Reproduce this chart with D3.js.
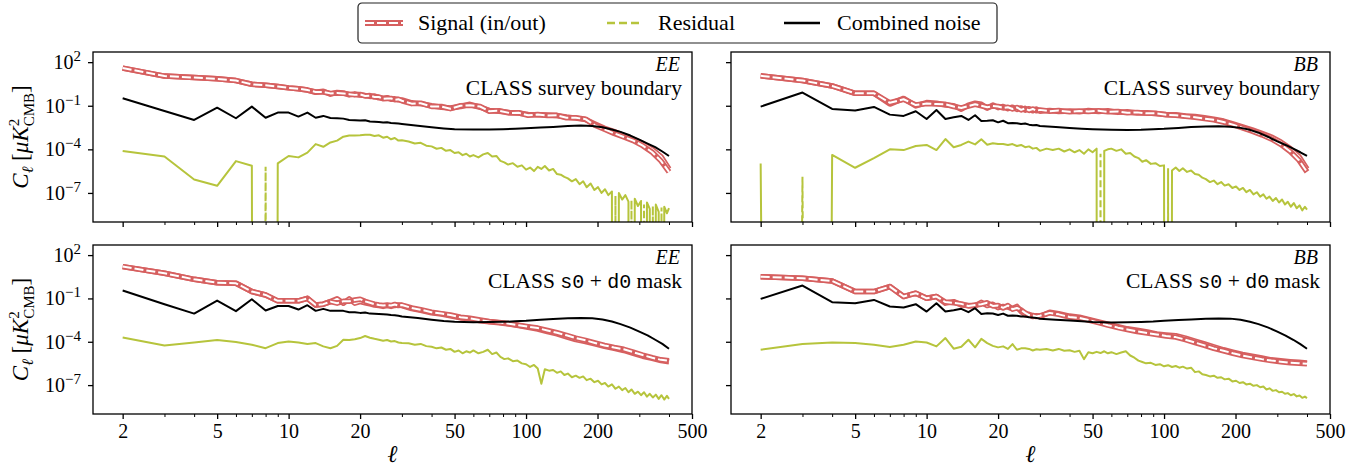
<!DOCTYPE html>
<html lang="en">
<head>
<meta charset="UTF-8">
<title>Signal, residual and noise spectra</title>
<script src="https://cdn.jsdelivr.net/npm/d3@7"></script>
<style>
  body { margin: 0; background: #fff; }
  svg, svg text { font-family: "Liberation Serif", "Times New Roman", serif; }
</style>
</head>
<body>
<div id="chart"></div>
<script>

// multipoles the curves were read at
var ellSig = [2,3,4,5,6,7,8,9,10,11,12,13,14,15,16,17,18,19,20,21,22,23,24,25,26,27,28,29,30,
  33,36,40,44,48,53,58,64,70,77,85,93,102,112,123,135,148,162,178,195,214,235,258,283,310,340,370,400];
var ellNoise = [2,3,4,5,6,7,8,9,10,11,12,13,14,15,16,17,18,19,20,21,22,23,24,25,26,27,28,29,30,
  35,40,45,50,60,70,80,90,100,115,130,150,170,190,210,230,250,275,300,325,350,375,400];
var ellRes = [2,3,4,5,6,7,8,9,10,11,12,13,14,15,16,17,18,19,20,21,22,23,24,25,26,27,28,29,30,
  32,34,36,38,40,42,44,46,48,50,52,54,56,58,60,63,66,69,72,75,78,81,84,88,92,96,100,104,108,112,116,120,
  125,130,135,140,145,150,156,162,168,174,180,187,194,201,208,215,222,230,238,246,254,262,270,278,
  287,296,305,314,323,332,342,352,362,372,382,392,400];

// EE, CLASS survey boundary
var eeBoundSigIn = [3.9e1,1.1e1,8.7,7.1,5.4,3.0,2.6,2.1,1.7,1.5,1.2,0.85,1.0,0.63,0.83,0.76,0.56,0.66,0.55,0.50,0.44,0.47,0.35,0.33,0.36,0.28,0.30,0.26,0.25,
  0.16,0.14,0.10,0.079,0.071,0.089,0.126,0.079,0.048,0.042,0.035,0.032,0.025,0.024,0.023,0.021,0.0166,0.0141,0.0112,0.0056,0.0028,0.00166,8.9e-4,5.0e-4,2.5e-4,1.0e-4,3.2e-5,4.5e-6];
var eeBoundSigOut = [3.9e1,1.1e1,8.7,7.1,5.4,3.0,2.6,2.1,1.7,1.5,1.2,0.89,0.89,0.71,0.76,0.71,0.63,0.56,0.60,0.47,0.50,0.40,0.40,0.30,0.32,0.32,0.26,0.28,0.22,
  0.14,0.15,0.089,0.089,0.063,0.10,0.11,0.089,0.042,0.045,0.032,0.033,0.022,0.025,0.021,0.022,0.015,0.015,0.012,0.0045,0.0024,0.00126,7.1e-4,4.0e-4,1.8e-4,6.3e-5,1.6e-5,2.8e-6];
var eeBoundNoise = [3.3e-1,4.4e-2,1.05e-2,7.4e-2,1.38e-2,8.7e-2,1.5e-2,3.4e-2,3.4e-2,1.8e-2,3.4e-2,1.5e-2,2.0e-2,1.45e-2,1.38e-2,1.3e-2,1.05e-2,1.0e-2,9.5e-3,1.0e-2,8.3e-3,7.9e-3,7.6e-3,7.1e-3,7.2e-3,6.6e-3,6.3e-3,6.0e-3,5.6e-3,
  4.2e-3,3.3e-3,2.75e-3,2.4e-3,2.3e-3,2.35e-3,2.45e-3,2.6e-3,2.8e-3,3.2e-3,3.5e-3,4.0e-3,4.3e-3,4.0e-3,3.3e-3,2.35e-3,1.6e-3,8.9e-4,4.7e-4,2.5e-4,1.4e-4,7.1e-5,3.5e-5];
var eeBoundRes = [7.6e-5,3.2e-5,8.5e-7,3.1e-7,1.55e-5,7.4e-6,-6.3e-6,1.07e-5,3.5e-5,2.8e-5,5.9e-5,2.3e-4,1.5e-4,3.0e-4,4.0e-4,7.4e-4,9.1e-4,9.1e-4,9.3e-4,1.0e-3,1.02e-3,8.3e-4,9.3e-4,6.3e-4,7.4e-4,4.9e-4,6.0e-4,4.0e-4,4.2e-4,
  3.5e-4,2.5e-4,2.8e-4,1.8e-4,1.6e-4,1.1e-4,1.26e-4,7.9e-5,8.9e-5,5.6e-5,6.3e-5,4.0e-5,5.0e-5,3.2e-5,4.0e-5,
  2.8e-5,4.5e-5,5.6e-5,3.2e-5,3.5e-5,1.6e-5,1.26e-5,8.9e-6,
  1.12e-5,6.3e-6,7.9e-6,4.0e-6,5.6e-6,3.2e-6,6.3e-6,4.5e-6,7.1e-6,
  3.5e-6,4.5e-6,2.0e-6,1.8e-6,1.26e-6,1.0e-6,
  6.3e-7,8.9e-7,4.0e-7,6.3e-7,2.5e-7,
  4.5e-7,1.6e-7,2.5e-7,1.0e-7,1.8e-7,
  7.1e-8,1.26e-7,-6.3e-8,1.0e-7,3.5e-8,7.1e-8,2.5e-8,-3.2e-8,
  4.0e-8,1.26e-8,2.8e-8,-1.6e-8,2.2e-8,
  7.9e-9,-1.26e-8,1.6e-8,5.0e-9,-1.0e-8,1.12e-8,4.0e-9,8.9e-9];

// BB, CLASS survey boundary
var bbBoundSigIn = [1.15e1,5.4,2.3,0.72,0.72,0.13,0.32,0.098,0.166,0.148,0.112,0.102,0.058,0.112,0.148,0.126,0.068,0.112,0.074,0.089,0.063,0.079,0.056,0.071,0.050,0.063,0.045,0.060,0.042,
  0.048,0.040,0.044,0.038,0.047,0.040,0.045,0.035,0.038,0.032,0.033,0.028,0.025,0.024,0.020,0.018,0.015,0.012,0.0089,0.0056,0.0035,0.0022,0.00126,7.1e-4,3.2e-4,1.12e-4,3.2e-5,4.5e-6];
var bbBoundSigOut = [1.15e1,5.4,2.3,0.72,0.72,0.16,0.28,0.112,0.141,0.132,0.126,0.089,0.071,0.095,0.126,0.10,0.079,0.095,0.089,0.071,0.079,0.060,0.076,0.052,0.066,0.048,0.060,0.045,0.052,
  0.042,0.047,0.038,0.044,0.040,0.045,0.038,0.040,0.033,0.035,0.030,0.030,0.024,0.022,0.019,0.016,0.013,0.0107,0.0076,0.0050,0.0030,0.00178,0.0010,5.2e-4,2.2e-4,7.1e-5,1.8e-5,2.8e-6];
var bbBoundNoise = [8.7e-2,8.1e-1,6.0e-2,4.7e-2,8.3e-2,2.45e-2,2.0e-2,4.2e-2,1.23e-2,5.1e-2,1.23e-2,1.6e-2,2.0e-2,1.05e-2,2.2e-2,8.9e-3,9.3e-3,1.0e-2,7.2e-3,9.3e-3,6.3e-3,6.6e-3,6.3e-3,5.6e-3,6.0e-3,5.0e-3,4.5e-3,4.7e-3,4.0e-3,
  3.5e-3,2.95e-3,2.6e-3,2.4e-3,2.2e-3,2.15e-3,2.25e-3,2.45e-3,2.6e-3,3.0e-3,3.4e-3,3.7e-3,3.9e-3,3.6e-3,3.0e-3,2.2e-3,1.4e-3,7.1e-4,3.5e-4,2.0e-4,1.12e-4,6.3e-5,3.5e-5];
var bbBoundRes = [1.07e-5,-1.3e-6,4.1e-5,5.4e-6,2.5e-5,1.0e-4,8.9e-5,1.7e-4,2.0e-4,8.9e-5,5.1e-4,1.38e-4,2.0e-4,3.4e-4,2.2e-4,4.9e-4,2.1e-4,2.6e-4,2.3e-4,2.3e-4,2.0e-4,2.3e-4,1.7e-4,2.0e-4,1.4e-4,1.6e-4,1.12e-4,1.26e-4,7.9e-5,
  1.12e-4,8.9e-5,1.12e-4,7.1e-5,1.0e-4,6.3e-5,8.9e-5,5.0e-5,1.0e-4,6.3e-5,1.12e-4,-5.0e-5,7.9e-5,1.0e-4,1.12e-4,
  7.9e-5,1.0e-4,5.0e-5,5.6e-5,3.2e-5,2.5e-5,1.4e-5,1.8e-5,
  1.0e-5,1.12e-5,7.1e-6,7.9e-6,-5.0e-6,3.5e-6,5.6e-6,3.2e-6,5.0e-6,
  2.8e-6,3.5e-6,2.0e-6,1.8e-6,1.12e-6,8.9e-7,
  5.6e-7,7.1e-7,4.0e-7,5.6e-7,3.2e-7,
  4.0e-7,2.2e-7,2.8e-7,1.6e-7,2.2e-7,
  1.12e-7,1.6e-7,7.9e-8,1.12e-7,5.6e-8,7.9e-8,4.0e-8,5.6e-8,
  2.8e-8,4.5e-8,2.2e-8,3.5e-8,1.6e-8,
  2.5e-8,1.12e-8,2.0e-8,8.9e-9,1.4e-8,6.3e-9,1.12e-8,7.1e-9];

// EE, CLASS s0 + d0 mask
var eeMaskSigIn = [1.6e1,5.5,2.1,1.23,1.12,0.30,0.174,0.068,0.068,0.068,0.102,0.035,0.040,0.060,0.093,0.047,0.093,0.047,0.060,0.050,0.042,0.035,0.032,0.028,0.032,0.028,0.033,0.035,0.032,
  0.020,0.015,0.010,0.0083,0.0063,0.0045,0.0040,0.0028,0.0024,0.0021,0.00166,0.00132,0.0010,7.6e-4,5.0e-4,3.5e-4,2.2e-4,1.4e-4,1.05e-4,7.1e-5,4.8e-5,3.5e-5,2.5e-5,1.6e-5,1.0e-5,7.1e-6,5.0e-6,4.2e-6];
var eeMaskSigOut = [1.6e1,5.5,2.1,1.23,1.12,0.30,0.174,0.068,0.068,0.068,0.102,0.035,0.040,0.060,0.047,0.063,0.063,0.079,0.089,0.063,0.050,0.040,0.035,0.032,0.035,0.032,0.038,0.032,0.035,
  0.022,0.0166,0.0112,0.0089,0.0071,0.0050,0.0042,0.0032,0.0025,0.0022,0.00178,0.00141,0.00112,8.9e-4,6.0e-4,4.2e-4,2.8e-4,1.8e-4,1.26e-4,8.3e-5,5.6e-5,4.0e-5,3.0e-5,1.9e-5,1.2e-5,7.9e-6,5.6e-6,4.8e-6];
var eeMaskNoise = [3.5e-1,4.0e-2,8.9e-3,7.1e-2,1.32e-2,8.7e-2,1.45e-2,3.0e-2,3.0e-2,1.7e-2,3.4e-2,1.38e-2,1.9e-2,1.38e-2,1.38e-2,1.38e-2,1.12e-2,1.12e-2,1.0e-2,1.05e-2,8.9e-3,8.7e-3,8.3e-3,7.9e-3,7.6e-3,7.1e-3,6.8e-3,6.3e-3,5.6e-3,
  4.5e-3,3.4e-3,2.75e-3,2.4e-3,2.25e-3,2.3e-3,2.4e-3,2.6e-3,2.8e-3,3.3e-3,3.8e-3,4.2e-3,4.4e-3,4.2e-3,3.5e-3,2.5e-3,1.66e-3,9.5e-4,5.1e-4,2.8e-4,1.38e-4,7.1e-5,3.3e-5];
var eeMaskRes = [2.0e-4,5.6e-5,8.9e-5,1.32e-4,9.5e-5,6.2e-5,3.6e-5,8.1e-5,1.05e-4,8.9e-5,6.9e-5,8.1e-5,4.8e-5,3.6e-5,5.2e-5,1.38e-4,1.32e-4,1.5e-4,1.8e-4,2.5e-4,1.9e-4,1.6e-4,1.4e-4,1.17e-4,1.32e-4,1.05e-4,1.12e-4,8.9e-5,8.1e-5,
  7.9e-5,6.3e-5,7.1e-5,5.0e-5,4.5e-5,3.5e-5,4.0e-5,2.8e-5,3.2e-5,2.0e-5,2.5e-5,1.6e-5,2.2e-5,1.8e-5,2.5e-5,
  1.6e-5,2.0e-5,2.8e-5,1.4e-5,1.8e-5,8.9e-6,6.3e-6,7.1e-6,
  4.5e-6,5.0e-6,3.2e-6,2.8e-6,1.8e-6,2.5e-6,1.4e-6,1.26e-7,1.26e-6,
  1.0e-6,1.12e-6,7.1e-7,8.9e-7,5.0e-7,6.3e-7,
  3.5e-7,4.5e-7,3.2e-7,4.0e-7,2.2e-7,
  2.8e-7,1.6e-7,2.0e-7,1.12e-7,1.4e-7,
  7.9e-8,1.12e-7,5.6e-8,7.9e-8,4.5e-8,6.3e-8,3.2e-8,5.0e-8,
  2.5e-8,3.5e-8,2.0e-8,3.2e-8,1.6e-8,
  2.5e-8,1.4e-8,2.2e-8,1.12e-8,2.0e-8,1.0e-8,1.8e-8,1.12e-8];

// BB, CLASS s0 + d0 mask
var bbMaskSigIn = [3.2,2.5,1.6,0.30,0.30,0.66,0.135,0.23,0.102,0.135,0.047,0.060,0.035,0.032,0.030,0.054,0.032,0.040,0.023,0.028,0.025,0.020,0.028,0.0126,0.0072,0.0079,0.0056,0.0063,0.0056,
  0.0112,0.0089,0.0060,0.0050,0.0035,0.0024,0.00166,0.00112,7.9e-4,6.3e-4,4.8e-4,3.5e-4,3.0e-4,2.6e-4,1.8e-4,1.12e-4,7.1e-5,4.5e-5,2.8e-5,1.9e-5,1.32e-5,1.0e-5,7.6e-6,5.6e-6,4.8e-6,4.2e-6,3.8e-6,3.4e-6];
var bbMaskSigOut = [3.2,2.5,1.6,0.30,0.30,0.66,0.135,0.23,0.102,0.135,0.056,0.050,0.042,0.030,0.035,0.040,0.050,0.030,0.032,0.022,0.032,0.018,0.022,0.016,0.010,0.0071,0.0066,0.0056,0.0063,
  0.010,0.0079,0.0052,0.0045,0.0032,0.0021,0.00141,9.5e-4,7.1e-4,5.2e-4,4.0e-4,3.2e-4,2.5e-4,2.1e-4,1.4e-4,8.9e-5,5.6e-5,3.5e-5,2.4e-5,1.6e-5,1.12e-5,8.3e-6,6.3e-6,5.0e-6,4.2e-6,3.5e-6,3.3e-6,3.0e-6];
var bbMaskNoise = [9.3e-2,7.8e-1,5.5e-2,4.7e-2,7.9e-2,2.75e-2,2.35e-2,4.0e-2,1.23e-2,4.7e-2,1.23e-2,1.5e-2,1.9e-2,1.12e-2,2.1e-2,8.5e-3,9.5e-3,9.1e-3,7.2e-3,8.9e-3,6.3e-3,6.6e-3,6.3e-3,5.6e-3,5.6e-3,5.0e-3,4.7e-3,4.5e-3,3.9e-3,
  3.4e-3,2.95e-3,2.6e-3,2.3e-3,2.2e-3,2.25e-3,2.35e-3,2.5e-3,2.8e-3,3.2e-3,3.5e-3,3.9e-3,4.1e-3,4.0e-3,3.3e-3,2.4e-3,1.66e-3,9.5e-4,5.1e-4,2.7e-4,1.38e-4,6.8e-5,3.3e-5];
var bbMaskRes = [2.8e-5,6.9e-5,8.9e-5,8.1e-5,6.2e-5,4.3e-5,6.2e-5,1.05e-4,8.9e-5,4.8e-5,1.8e-4,3.3e-5,4.5e-5,1.38e-4,4.1e-5,1.6e-4,8.1e-5,5.2e-5,4.1e-5,4.8e-5,3.2e-5,6.9e-5,2.8e-5,3.5e-5,3.6e-5,3.2e-5,2.5e-5,3.0e-5,2.8e-5,
  3.2e-5,2.5e-5,3.2e-5,2.4e-5,2.6e-5,2.0e-5,2.4e-5,6.3e-6,1.9e-5,1.6e-5,2.0e-5,1.66e-5,2.2e-5,1.6e-5,1.9e-5,
  1.4e-5,1.8e-5,2.2e-5,1.12e-5,7.9e-6,5.0e-6,4.0e-6,3.2e-6,
  3.5e-6,2.5e-6,2.8e-6,2.0e-6,2.4e-6,1.8e-6,2.1e-6,1.6e-6,1.9e-6,
  1.4e-6,1.6e-6,7.9e-7,8.9e-7,5.6e-7,5.0e-7,
  4.0e-7,4.5e-7,3.2e-7,3.5e-7,2.5e-7,
  2.8e-7,1.8e-7,2.0e-7,1.4e-7,1.6e-7,
  1.12e-7,1.26e-7,8.9e-8,1.0e-7,7.1e-8,7.9e-8,5.0e-8,6.0e-8,
  4.0e-8,4.5e-8,3.2e-8,3.5e-8,2.5e-8,
  2.8e-8,2.0e-8,2.4e-8,1.66e-8,1.9e-8,1.32e-8,1.6e-8,1.26e-8];

var xMajor = [2, 5, 10, 20, 50, 100, 200, 500];
var xMinor = [3, 4, 6, 7, 8, 9, 30, 40, 60, 70, 80, 90, 300, 400];
var yTicks = [1e2, 1e-1, 1e-4, 1e-7];

var red = "#d65f5f", olive = "#b6c43c";
var serif = "Liberation Serif, Times New Roman, serif",
    mono = "Liberation Mono, DejaVu Sans Mono, monospace";

var panels = [
    {col: 0, row: 0, spec: "EE", mask: "survey", sigIn: eeBoundSigIn, sigOut: eeBoundSigOut, noise: eeBoundNoise, res: eeBoundRes},
    {col: 1, row: 0, spec: "BB", mask: "survey", sigIn: bbBoundSigIn, sigOut: bbBoundSigOut, noise: bbBoundNoise, res: bbBoundRes},
    {col: 0, row: 1, spec: "EE", mask: "s0d0", sigIn: eeMaskSigIn, sigOut: eeMaskSigOut, noise: eeMaskNoise, res: eeMaskRes},
    {col: 1, row: 1, spec: "BB", mask: "s0d0", sigIn: bbMaskSigIn, sigOut: bbMaskSigOut, noise: bbMaskNoise, res: bbMaskRes}
];

var cols = [[93, 692], [731, 1330]],
    rows = [[52, 222], [245, 414]];

var svg = d3.select("#chart").append("svg")
    .attr("width", 1372)
    .attr("height", 475)
    .attr("font-family", serif);

var supText = function(d) {
    return String(Math.round(Math.log10(d))).replace("-", "\u2212");
};

panels.forEach(function(p, i) {
    var x0 = cols[p.col][0], x1 = cols[p.col][1],
        y0 = rows[p.row][0], y1 = rows[p.row][1];

    var x = d3.scaleLog().domain([1.5, 500]).range([x0, x1]);
    var y = d3.scaleLog().domain([1e-9, 500]).range([y1, y0]);

    svg.append("clipPath").attr("id", "clip" + i)
        .append("rect")
        .attr("x", x0).attr("y", y0)
        .attr("width", x1 - x0).attr("height", y1 - y0);

    var g = svg.append("g").attr("clip-path", "url(#clip" + i + ")");

    var lineOf = function(ells, fy) {
        return d3.line()
            .x(function(d, j) { return x(ells[j]); })
            .y(fy);
    };

    // signal in / out: red tube with white core, the "out" one dashed
    [[p.sigIn, null], [p.sigOut, "9,3"]].forEach(function(s) {
        var d = lineOf(ellSig, function(v) { return y(v); })(s[0]);
        g.append("path").attr("d", d)
            .attr("fill", "none").attr("stroke", red)
            .attr("stroke-width", 5.5).attr("stroke-linejoin", "round");
        g.append("path").attr("d", d)
            .attr("fill", "none").attr("stroke", "#fff")
            .attr("stroke-width", 2).attr("stroke-linejoin", "round")
            .attr("stroke-dasharray", s[1]);
    });

    // residual: positive part solid, negative part (abs) dashed; log clipping drops off the axis
    var below = y1 + 5000;
    g.append("path")
        .attr("d", lineOf(ellRes, function(v) { return v > 0 ? y(v) : below; })(p.res))
        .attr("fill", "none").attr("stroke", olive)
        .attr("stroke-width", 2).attr("stroke-linejoin", "round");
    g.append("path")
        .attr("d", lineOf(ellRes, function(v) { return v < 0 ? y(-v) : below; })(p.res))
        .attr("fill", "none").attr("stroke", olive)
        .attr("stroke-width", 2).attr("stroke-dasharray", "7,3");

    // combined noise
    g.append("path")
        .attr("d", lineOf(ellNoise, function(v) { return y(v); })(p.noise))
        .attr("fill", "none").attr("stroke", "#000")
        .attr("stroke-width", 2).attr("stroke-linejoin", "round");

    // axes
    var ax = svg.append("g")
        .attr("transform", "translate(0," + y1 + ")")
        .call(d3.axisBottom(x).tickValues(xMajor).tickSize(5).tickPadding(5)
            .tickFormat(p.row === 1 ? d3.format("d") : ""));
    var axm = svg.append("g")
        .attr("transform", "translate(0," + y1 + ")")
        .call(d3.axisBottom(x).tickValues(xMinor).tickSize(3).tickFormat(""));
    axm.selectAll(".tick line").attr("stroke-width", 1);
    axm.select(".domain").remove();

    var ay = svg.append("g")
        .attr("transform", "translate(" + x0 + ",0)")
        .call(d3.axisLeft(y).tickValues(yTicks).tickSize(5).tickPadding(7).tickFormat(""));

    if (p.col === 0) {
        ay.selectAll(".tick text").each(function(d) {
            var t = d3.select(this);
            t.text("10");
            t.append("tspan").attr("dy", -8).attr("font-size", 15).text(supText(d));
        });
    }

    [ax, ay].forEach(function(a) {
        a.attr("font-family", serif).attr("font-size", 20);
        a.select(".domain").remove();
        a.selectAll(".tick line").attr("stroke-width", 1.3);
        a.selectAll(".tick text").attr("fill", "#000");
    });

    svg.append("rect")
        .attr("x", x0).attr("y", y0)
        .attr("width", x1 - x0).attr("height", y1 - y0)
        .attr("fill", "none").attr("stroke", "#000").attr("stroke-width", 1.3);

    // panel annotations
    svg.append("text")
        .attr("x", x1 - 12).attr("y", y0 + 19)
        .attr("text-anchor", "end").attr("font-size", 20)
        .attr("font-style", "italic")
        .text(p.spec);

    var t2 = svg.append("text")
        .attr("x", x1 - 10).attr("y", y0 + 43)
        .attr("text-anchor", "end").attr("font-size", 21.5);
    if (p.mask === "survey") {
        t2.text("CLASS survey boundary");
    } else {
        t2.append("tspan").text("CLASS ");
        t2.append("tspan").attr("font-family", mono).attr("font-size", 20).text("s0");
        t2.append("tspan").text(" + ");
        t2.append("tspan").attr("font-family", mono).attr("font-size", 20).text("d0");
        t2.append("tspan").text(" mask");
    }

    // y label
    if (p.col === 0) {
        var yl = svg.append("text")
            .attr("transform", "translate(28," + ((y0 + y1) / 2) + ") rotate(-90)")
            .attr("text-anchor", "middle").attr("font-size", 23);
        yl.append("tspan").attr("font-style", "italic").text("C");
        yl.append("tspan").attr("font-style", "italic").attr("font-size", 16).attr("dy", 5).text("\u2113");
        yl.append("tspan").attr("dy", -5).text(" [");
        yl.append("tspan").attr("font-style", "italic").text("\u03bcK");
        yl.append("tspan").attr("font-size", 15).attr("dy", -9).text("2");
        yl.append("tspan").attr("font-size", 15).attr("dx", -7.5).attr("dy", 15).text("CMB");
        yl.append("tspan").attr("dy", -6).text("]");
    }

    // x label
    if (p.row === 1) {
        svg.append("text")
            .attr("x", (x0 + x1) / 2).attr("y", 462)
            .attr("text-anchor", "middle").attr("font-size", 24)
            .attr("font-style", "italic")
            .text("\u2113");
    }
});

// legend
var lg = svg.append("g");
lg.append("rect")
    .attr("x", 358).attr("y", 3).attr("width", 639).attr("height", 40)
    .attr("rx", 4).attr("fill", "#fff")
    .attr("stroke", "#222").attr("stroke-width", 1.2);

lg.append("line").attr("x1", 365).attr("x2", 403).attr("y1", 23).attr("y2", 23)
    .attr("stroke", red).attr("stroke-width", 6);
lg.append("line").attr("x1", 365).attr("x2", 403).attr("y1", 23).attr("y2", 23)
    .attr("stroke", "#fff").attr("stroke-width", 2).attr("stroke-dasharray", "9,3");
lg.append("line").attr("x1", 607).attr("x2", 641).attr("y1", 23).attr("y2", 23)
    .attr("stroke", olive).attr("stroke-width", 2.5).attr("stroke-dasharray", "8,4");
lg.append("line").attr("x1", 784).attr("x2", 820).attr("y1", 23).attr("y2", 23)
    .attr("stroke", "#000").attr("stroke-width", 2.5);

[["Signal (in/out)", 418], ["Residual", 658], ["Combined noise", 837]].forEach(function(e) {
    lg.append("text").attr("x", e[1]).attr("y", 30)
        .attr("font-size", 22).text(e[0]);
});

</script>
</body>
</html>
